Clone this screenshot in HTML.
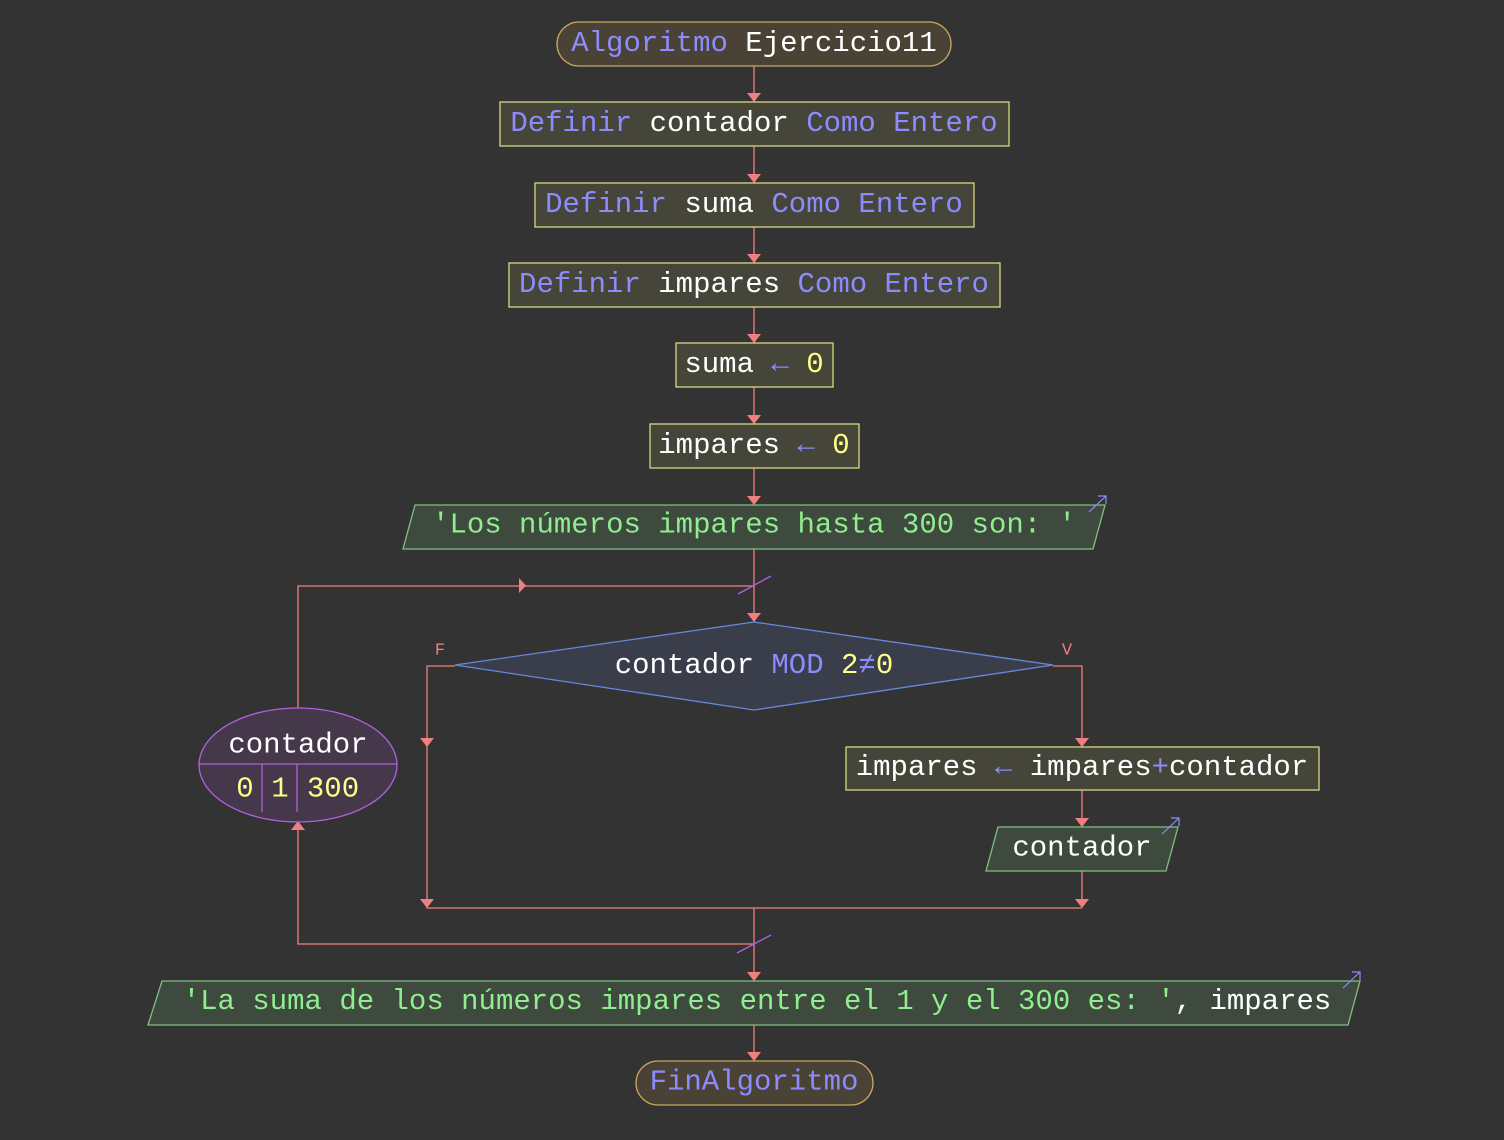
<!DOCTYPE html>
<html><head><meta charset="utf-8"><style>
html,body{margin:0;padding:0;background:#333333;}
svg{display:block;}
text{font-family:"Liberation Mono","DejaVu Sans Mono",monospace;font-size:29px;text-anchor:middle;dominant-baseline:central;}
.w{fill:#ffffff}.k{fill:#8c8cff}.n{fill:#ffff88}.g{fill:#90ee90}
.box{fill:#45453a;stroke:#d8d880;stroke-width:1.3}
.io{fill:#3e4a3e;stroke:#80c080;stroke-width:1.3}
.term{fill:#4a4335;stroke:#c8a860;stroke-width:1.3}
.ln{stroke:#f08080;stroke-width:1.3;fill:none}
.ar{fill:#f08080}
</style></head><body>
<svg width="1504" height="1140" viewBox="0 0 1504 1140" xmlns="http://www.w3.org/2000/svg">
<rect width="1504" height="1140" fill="#333333"/>
<path class="ln" d="M754 66V102M754 146V183M754 227V263M754 307V343M754 387V424M754 468V505M754 549V622M754 908V981M754 1025V1061"/>
<g class="ar">
<path d="M747 93h14l-7 9z"/><path d="M747 174h14l-7 9z"/><path d="M747 254h14l-7 9z"/><path d="M747 334h14l-7 9z"/><path d="M747 415h14l-7 9z"/><path d="M747 496h14l-7 9z"/><path d="M747 613h14l-7 9z"/><path d="M747 972h14l-7 9z"/><path d="M747 1052h14l-7 9z"/>
</g>
<rect class="term" x="557" y="22" width="394" height="44" rx="22"/>
<text x="754" y="43"><tspan class="k">Algoritmo</tspan><tspan class="w"> Ejercicio11</tspan></text>
<rect class="box" x="500" y="102" width="509" height="44"/>
<text x="754" y="123"><tspan class="k">Definir</tspan><tspan class="w"> contador </tspan><tspan class="k">Como Entero</tspan></text>
<rect class="box" x="535" y="183" width="439" height="44"/>
<text x="754" y="204"><tspan class="k">Definir</tspan><tspan class="w"> suma </tspan><tspan class="k">Como Entero</tspan></text>
<rect class="box" x="509" y="263" width="491" height="44"/>
<text x="754" y="284"><tspan class="k">Definir</tspan><tspan class="w"> impares </tspan><tspan class="k">Como Entero</tspan></text>
<rect class="box" x="676" y="343" width="157" height="44"/>
<text x="754" y="364"><tspan class="w">suma </tspan><tspan class="k">←</tspan><tspan class="n"> 0</tspan></text>
<rect class="box" x="650" y="424" width="209" height="44"/>
<text x="754" y="445"><tspan class="w">impares </tspan><tspan class="k">←</tspan><tspan class="n"> 0</tspan></text>
<polygon class="io" points="415,505 1105,505 1093,549 403,549"/>
<text class="g" x="754" y="525">'Los números impares hasta 300 son: '</text>
<path d="M1089 512L1106 496M1098 496h8v8" stroke="#8c8cff" fill="none" stroke-width="1.2"/>
<path class="ln" d="M298 708V586H754"/>
<path class="ar" d="M519 578v15l7-7.5z"/>
<path d="M738 594L771 576" stroke="#b060e0" stroke-width="1.3"/>
<polygon points="455,665 754,622 1053,665 754,710" fill="#3a3d4a" stroke="#6688dd" stroke-width="1.3"/>
<text x="754" y="665"><tspan class="w">contador </tspan><tspan class="k">MOD</tspan><tspan class="n"> 2</tspan><tspan class="k">≠</tspan><tspan class="n">0</tspan></text>
<text x="440" y="651" style="font-size:17px;fill:#f08080">F</text>
<text x="1067" y="651" style="font-size:17px;fill:#f08080">V</text>
<path class="ln" d="M455 666H427V908H1082M1053 666H1082V747M1082 790V827M1082 871V908"/>
<g class="ar"><path d="M420 738h14l-7 9z"/><path d="M420 899h14l-7 9z"/><path d="M1075 738h14l-7 9z"/><path d="M1075 818h14l-7 9z"/><path d="M1075 899h14l-7 9z"/></g>
<rect class="box" x="846" y="747" width="473" height="43"/>
<text x="1082" y="767"><tspan class="w">impares </tspan><tspan class="k">←</tspan><tspan class="w"> impares</tspan><tspan class="k">+</tspan><tspan class="w">contador</tspan></text>
<polygon class="io" points="998,827 1178,827 1166,871 986,871"/>
<text class="w" x="1082" y="848">contador</text>
<path d="M1162 834L1179 818M1171 818h8v8" stroke="#8c8cff" fill="none" stroke-width="1.2"/>
<path class="ln" d="M754 944H298V822"/>
<path class="ar" d="M291 830h14l-7-9z"/>
<path d="M737 953L771 935" stroke="#b060e0" stroke-width="1.3"/>
<ellipse cx="298" cy="765" rx="99" ry="57" fill="#45384a" stroke="#b060e0" stroke-width="1.3"/>
<path d="M199 764H397M262 764V812M297 764V812" stroke="#b060e0" stroke-width="1.3"/>
<text class="w" x="298" y="745">contador</text>
<text class="n" x="245" y="789">0</text>
<text class="n" x="280" y="789">1</text>
<text class="n" x="333" y="789">300</text>
<polygon class="io" points="162,981 1360,981 1348,1025 148,1025"/>
<text x="757" y="1001"><tspan class="g">'La suma de los números impares entre el 1 y el 300 es: '</tspan><tspan class="w">, impares</tspan></text>
<path d="M1343 988L1360 972M1352 972h8v8" stroke="#8c8cff" fill="none" stroke-width="1.2"/>
<rect class="term" x="636" y="1061" width="237" height="44" rx="22"/>
<text class="k" x="754" y="1082">FinAlgoritmo</text>
</svg>
</body></html>
